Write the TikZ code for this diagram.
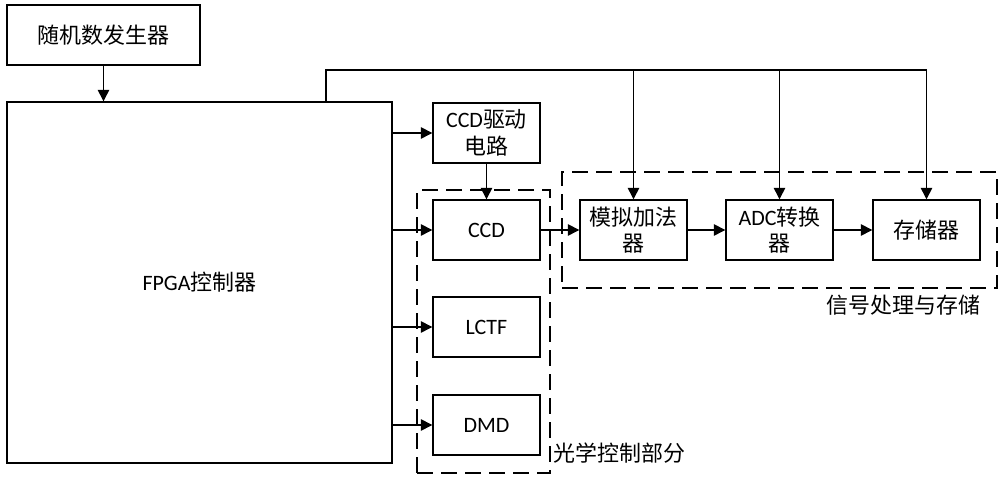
\documentclass[tikz,border=0pt]{standalone}
\usepackage{fontspec}
\setmainfont{Carlito}
\newfontfamily\cjk{Noto Sans CJK SC}
\usetikzlibrary{arrows.meta}

\begin{document}
\begin{tikzpicture}[x=0.2mm,y=-0.2mm,
    box/.style={draw,line width=0.8pt,minimum width=107*0.2mm,minimum height=60*0.2mm,inner sep=0pt,align=center,
      font=\fontsize{12.5}{15}\selectfont},
    group/.style={draw,line width=0.8pt,dash pattern=on 3.2mm off 1.6mm,inner sep=0pt},
    arr/.style={line width=0.8pt,-{Triangle[length=2.3mm,width=2.3mm]}},
    lbl/.style={inner sep=0pt,font=\fontsize{12.5}{15}\selectfont}]
  \useasboundingbox (0,0) rectangle (1000,479);
  \node[group,minimum width=133*0.2mm,minimum height=283*0.2mm] (optgrp) at (483.5,331.5){};
  \node[group,minimum width=435*0.2mm,minimum height=116*0.2mm] (siggrp) at (779.5,230){};
  \node[box,minimum width=193*0.2mm] (rng) at (103.5,35){\cjk 随机数发生器};
  \node[box,minimum width=385*0.2mm,minimum height=361*0.2mm] (fpga) at (199.5,282.5){FPGA{\cjk 控制器}};
  \node[box] (drv) at (486.5,133){CCD{\cjk 驱动}\\{\cjk 电路}};
  \node[box] (ccd) at (486.5,230){CCD};
  \node[box] (lctf) at (486.5,327){LCTF};
  \node[box] (dmd) at (486.5,425){DMD};
  \node[box] (adder) at (633.5,230){\cjk 模拟加法\\\cjk 器};
  \node[box] (adc) at (779.5,230){ADC{\cjk 转换}\\{\cjk 器}};
  \node[box] (mem) at (926.5,230){\cjk 存储器};
  \node[lbl,anchor=west] (optlbl) at (553,453){\cjk 光学控制部分};
  \node[lbl,anchor=east] (siglbl) at (981,305){\cjk 信号处理与存储};
  \coordinate (bus) at (326,70);
  \draw[arr] (rng.south) -- (rng.south |- fpga.north);
  \draw[line width=0.8pt] (bus |- fpga.north) -- (bus) -- (bus -| mem.north);
  \draw[arr] (bus -| adder.north) -- (adder.north);
  \draw[arr] (bus -| adc.north) -- (adc.north);
  \draw[arr] (bus -| mem.north) -- (mem.north);
  \draw[arr] (fpga.east |- drv.west) -- (drv.west);
  \draw[arr] (fpga.east |- ccd.west) -- (ccd.west);
  \draw[arr] (fpga.east |- lctf.west) -- (lctf.west);
  \draw[arr] (fpga.east |- dmd.west) -- (dmd.west);
  \draw[arr] (drv.south) -- (ccd.north);
  \draw[arr] (ccd.east) -- (adder.west);
  \draw[arr] (adder.east) -- (adc.west);
  \draw[arr] (adc.east) -- (mem.west);
\end{tikzpicture}
\end{document}
